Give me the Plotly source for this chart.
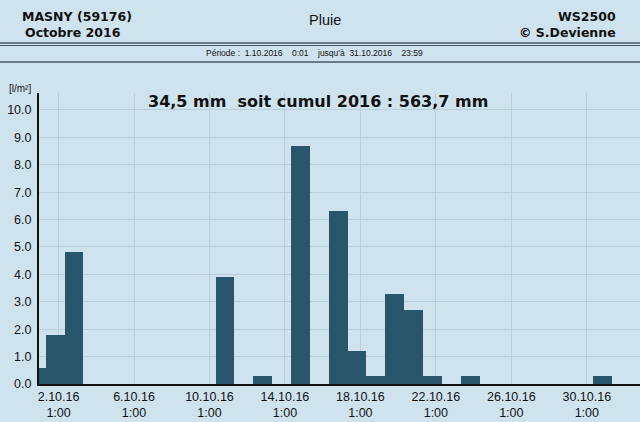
import plotly.graph_objects as go

# Daily rainfall, October 2016 (l/m²), one bar per day index 0..30
day_index = list(range(31))
rain = [0.6, 1.8, 4.8, 0, 0, 0, 0, 0, 0, 0,
        3.9, 0, 0.3, 0, 8.7, 0, 6.3, 1.2, 0.3, 3.3,
        2.7, 0.3, 0, 0.3, 0, 0, 0, 0, 0, 0,
        0.3]

tick_days = [2, 6, 10, 14, 18, 22, 26, 30]
tick_labels = [f"{d}.10.16<br>1:00" for d in tick_days]
y_ticks = [i for i in range(11)]
y_labels = [f"{v:.1f}" for v in y_ticks]

BG = "#cfe3ee"
BAR = "#29566b"
GRID = "#b7d0dc"

fig = go.Figure()
fig.add_trace(go.Bar(
    x=day_index, y=rain, width=1.0,
    marker=dict(color=BAR, line=dict(width=0)),
    hoverinfo="x+y",
))

fig.update_layout(
    width=640, height=422,
    margin=dict(l=39, r=0, t=93, b=38),
    paper_bgcolor=BG, plot_bgcolor=BG,
    showlegend=False,
    bargap=0,
    font=dict(family="Liberation Sans, Arial, sans-serif", color="#111111", size=12),
    xaxis=dict(
        range=[0.143, 32.0],
        tickmode="array",
        tickvals=[d - 0.82 for d in tick_days],
        ticktext=tick_labels,
        showgrid=True, gridcolor=GRID, gridwidth=1,
        showline=True, linecolor="#111111", linewidth=2,
        ticks="", zeroline=False,
        tickfont=dict(size=12.5),
        automargin=False,
    ),
    yaxis=dict(
        range=[0, 10.62],
        tickmode="array",
        tickvals=y_ticks, ticktext=y_labels,
        showgrid=True, gridcolor=GRID, gridwidth=1,
        showline=True, linecolor="#111111", linewidth=2,
        ticks="", zeroline=False,
        tickfont=dict(size=12.5),
        ticklabelstandoff=3,
        automargin=False,
    ),
)

hdr_font = "DejaVu Sans, Verdana, sans-serif"
annots = [
    dict(text="<b>MASNY (59176)</b>", x=20, y=16, xanchor="left", size=12.5, fam=hdr_font),
    dict(text="<b>Octobre 2016</b>", x=23, y=32, xanchor="left", size=12.5, fam=hdr_font),
    dict(text="Pluie", x=325, y=20, xanchor="center", size=14.5, fam="Liberation Sans, Arial, sans-serif"),
    dict(text="<b>WS2500</b>", x=618, y=16, xanchor="right", size=12.5, fam=hdr_font),
    dict(text="<b>© S.Devienne</b>", x=618, y=32, xanchor="right", size=12.5, fam=hdr_font),
    dict(text="Période :  1.10.2016    0:01    jusqu'à  31.10.2016    23:59", x=314, y=53,
         xanchor="center", size=8.5, fam="Liberation Sans, Arial, sans-serif"),
    dict(text="[l/m²]", x=7, y=88, xanchor="left", size=10, fam="Liberation Sans, Arial, sans-serif"),
    dict(text="<b>34,5 mm  soit cumul 2016 : 563,7 mm</b>", x=318, y=101, xanchor="center",
         size=16, fam=hdr_font),
]

# plot-area pixel bounds (used to convert pixel placement to paper coords)
pl, pr, pt, pb = 39, 640, 93, 384
for a in annots:
    fig.add_annotation(
        text=a["text"], x=(a["x"] - pl) / (pr - pl), y=(pb - a["y"]) / (pb - pt),
        xref="paper", yref="paper", xanchor=a["xanchor"], yanchor="middle",
        showarrow=False, font=dict(family=a["fam"], size=a["size"], color="#111111"),
    )

# Header separator lines
for ypix, w in [(43, 1.5), (45.5, 1), (62, 1.5)]:
    yy = (pb - ypix) / (pb - pt)
    fig.add_shape(type="line", xref="paper", yref="paper",
                  x0=(0 - pl) / (pr - pl), x1=1.0, y0=yy, y1=yy,
                  line=dict(color="#4a5860", width=w))

fig.write_html("out.html",
               config={"displayModeBar": False},
               post_script="document.body.style.margin='0';document.body.style.padding='0';")
